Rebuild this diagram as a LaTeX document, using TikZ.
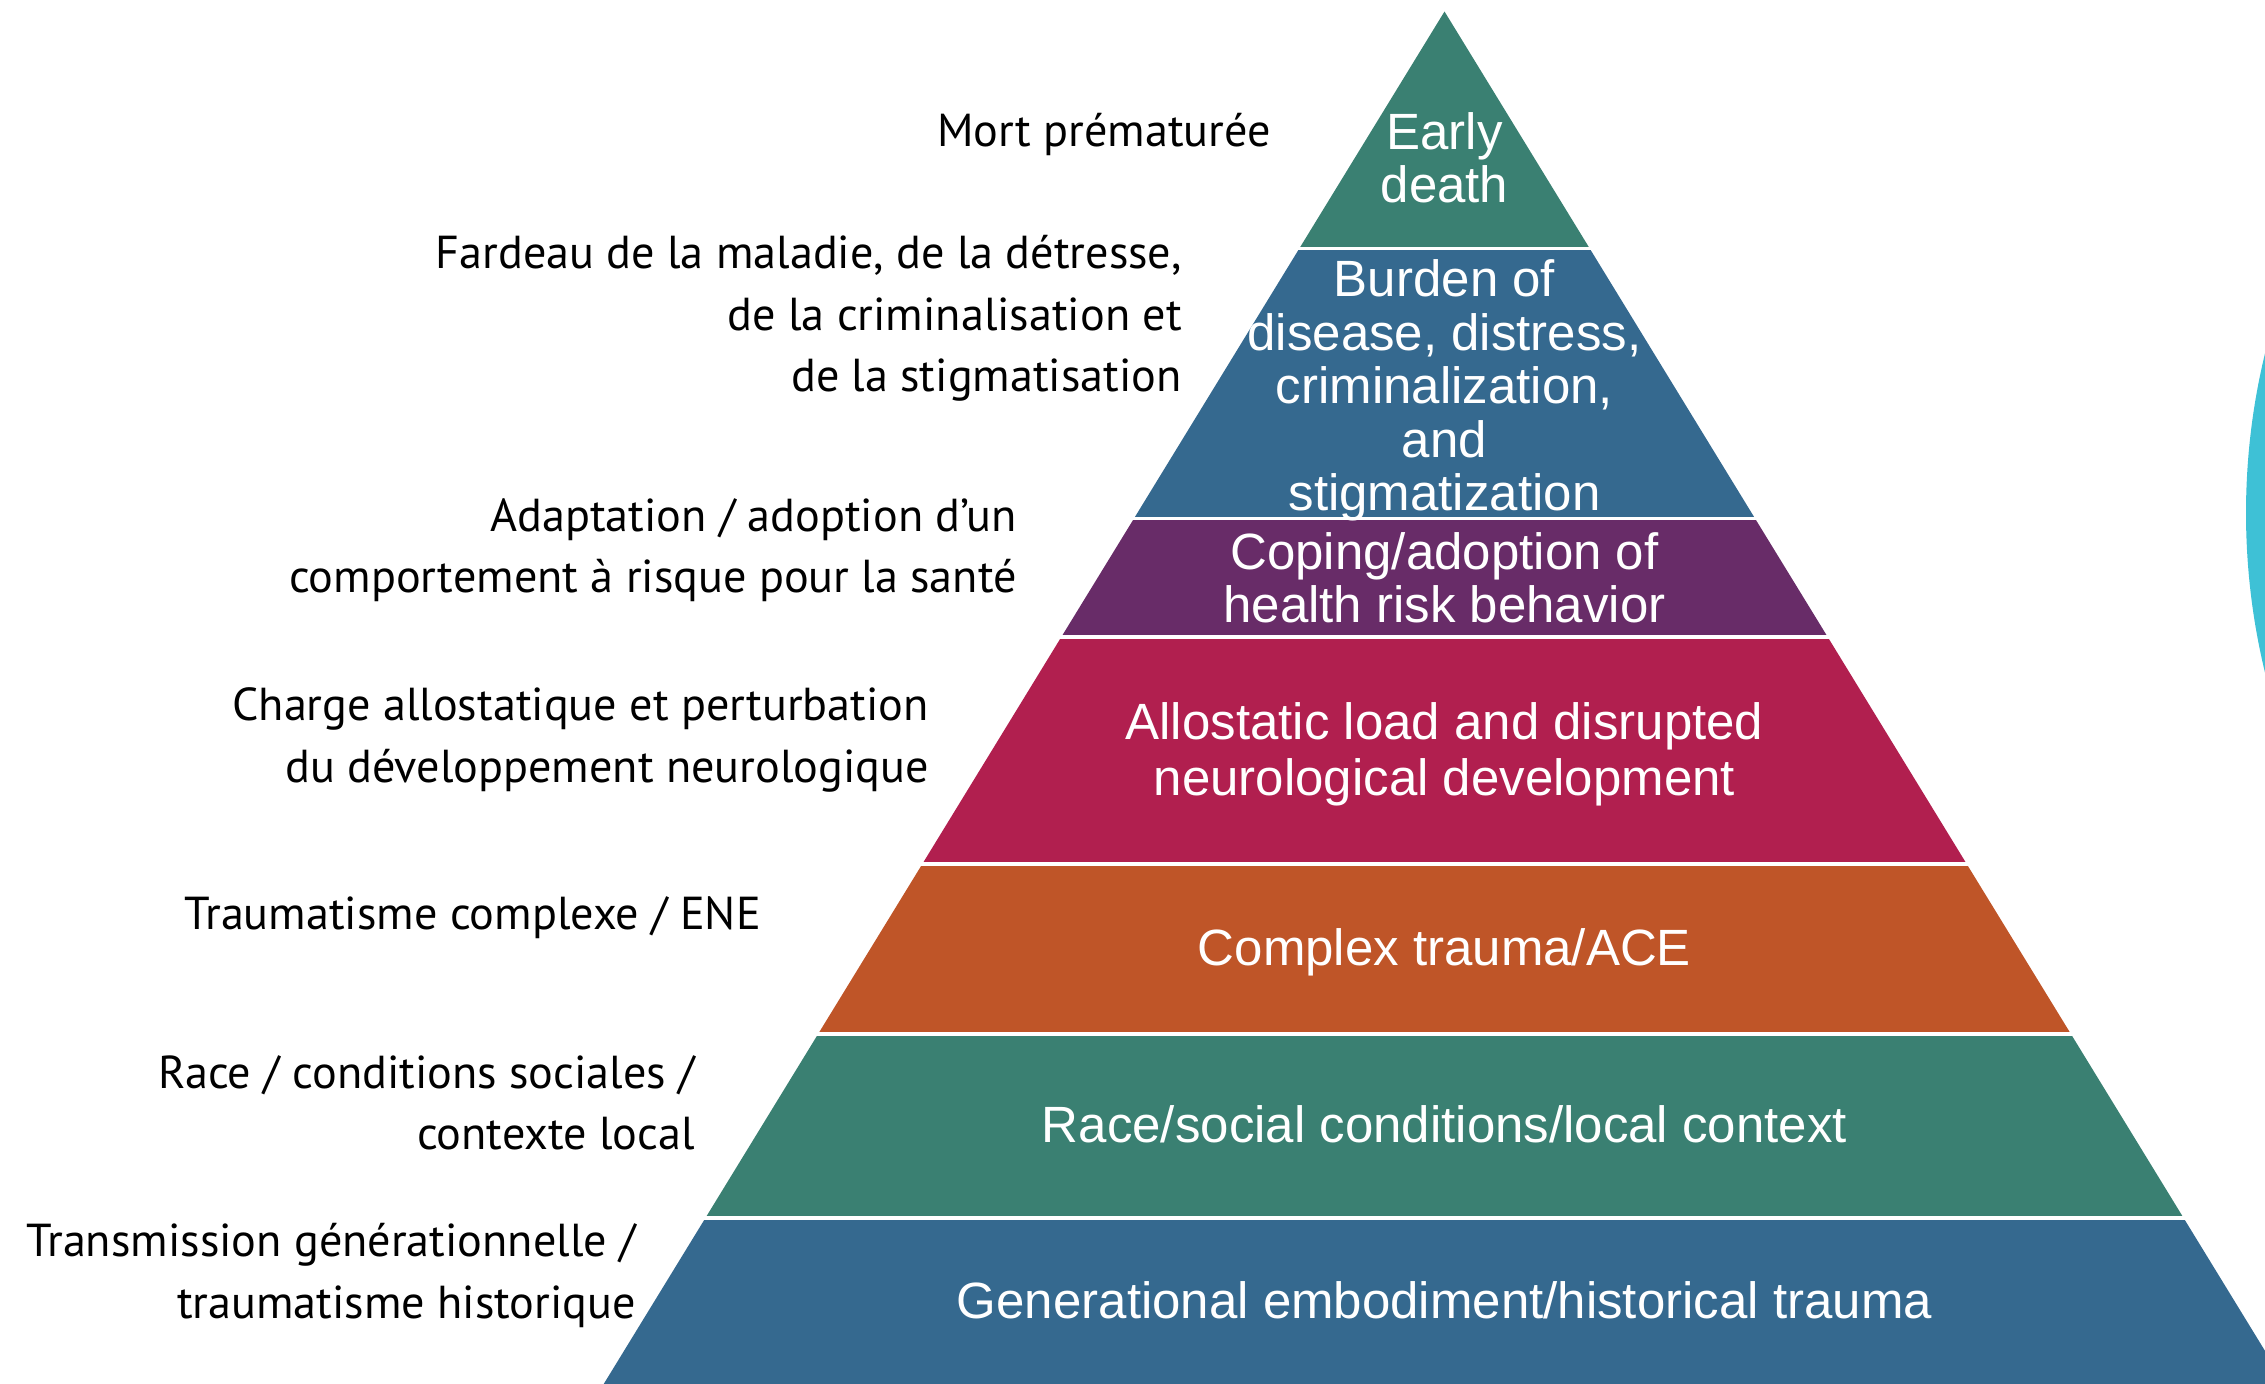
\documentclass[tikz,border=0pt]{standalone}
\usepackage{fontspec}
\setmainfont{PT Sans}
\newfontfamily\arialf{Liberation Sans}
\definecolor{tgreen}{HTML}{3A8072}
\definecolor{tblue}{HTML}{35698F}
\definecolor{tpurple}{HTML}{682C68}
\definecolor{tred}{HTML}{B11F4F}
\definecolor{torange}{HTML}{BF5528}
\definecolor{tcyan}{HTML}{3EC1D6}
\begin{document}
\begin{tikzpicture}[x=1pt,y=-1pt,
  fr/.style={anchor=east,align=right,inner sep=0pt,text=black,font=\fontsize{46.2}{61.4}\selectfont},
  en/.style={align=center,inner sep=0pt,text=white,font=\arialf\fontsize{51}{53.5}\selectfont},
  sep/.style={draw=white,line width=3.5pt}]
\useasboundingbox (0,0) rectangle (2265,1384);
\begin{scope}
\clip (0,0) rectangle (2265,1384);
% tiers
\fill[tgreen]  (1444.5,11.5) -- (1589.7,248.5) -- (1299.3,248.5) -- cycle;
\fill[tblue]   (1299.3,248.5) -- (1589.7,248.5) -- (1755.1,518.6) -- (1133.9,518.6) -- cycle;
\fill[tpurple] (1133.9,518.6) -- (1755.1,518.6) -- (1827.7,637) -- (1061.3,637) -- cycle;
\fill[tred]    (1061.3,637) -- (1827.7,637) -- (1966.7,864) -- (922.3,864) -- cycle;
\fill[torange] (922.3,864) -- (1966.7,864) -- (2070.9,1034) -- (818.1,1034) -- cycle;
\fill[tgreen]  (818.1,1034) -- (2070.9,1034) -- (2183.6,1218) -- (705.4,1218) -- cycle;
\fill[tblue]   (705.4,1218) -- (2183.6,1218) -- (2285.3,1384) -- (603.7,1384) -- cycle;
% separators
\draw[sep] (1290,248.5) -- (1600,248.5);
\draw[sep] (1125,518.6) -- (1765,518.6);
\draw[sep] (1050,637) -- (1840,637);
\draw[sep] (910,864) -- (1980,864);
\draw[sep] (805,1034) -- (2085,1034);
\draw[sep] (690,1218) -- (2200,1218);
% cyan shape at right edge
\fill[tcyan] (2921,513) circle (675);
\end{scope}
% English labels
\node[en] (early) at (1444.5,158) {Early\\death};
\node[en] (burden) at (1444.5,390.5) {Burden of\\disease, distress,\\criminalization,\\and\\stigmatization};
\node[en] (coping) at (1444.5,578) {Coping/adoption of\\health risk behavior};
\node[en, font=\arialf\fontsize{51}{56}\selectfont] (allo) at (1444.5,754) {Allostatic load and disrupted\\neurological development};
\node[en] (complex) at (1444.5,952) {Complex trauma/ACE};
\node[en] (race) at (1444.5,1124) {Race/social conditions/local context};
\node[en] (gen) at (1444.5,1300) {Generational embodiment/historical trauma};
% French labels
\node[fr] (mort) at (1271,134) {Mort prématurée};
\node[fr] (fardeau) at (1182,318.5) {Fardeau de la maladie, de la détresse,\\de la criminalisation et\\de la stigmatisation};
\node[fr] (adapt) at (1017,550) {Adaptation / adoption d’un\\comportement à risque pour la santé};
\node[fr] (charge) at (929,740) {Charge allostatique et perturbation\\du développement neurologique};
\node[fr] (trauma) at (761,918) {Traumatisme complexe / ENE};
\node[fr] (racefr) at (695,1103) {Race / conditions sociales /\\contexte local};
\node[fr] (trans) at (636,1275.5) {Transmission générationnelle /\\traumatisme historique};
\end{tikzpicture}
\end{document}
